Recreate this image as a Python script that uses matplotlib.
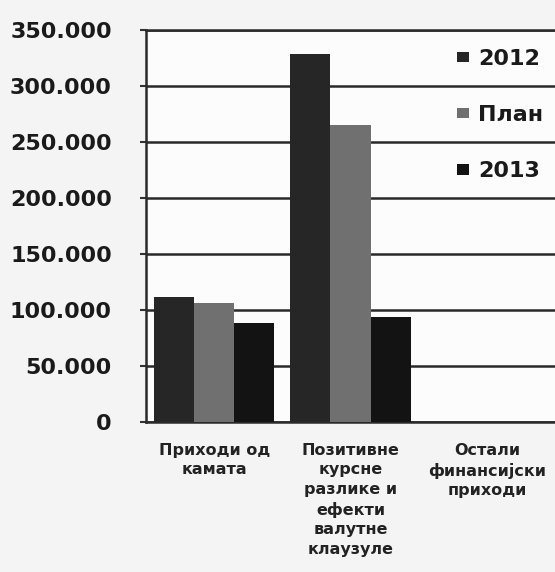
import matplotlib
matplotlib.use("Agg")
import matplotlib.pyplot as plt
import numpy as np

# Financial income by type (values in thousands)
categories = ["Приходи од\nкамата",
              "Позитивне\nкурсне\nразлике и\nефекти\nвалутне\nклаузуле",
              "Остали\nфинансијски\nприходи"]
series_names = ["2012", "План", "2013"]
values_2012 = [112000, 329000, 0]
values_plan = [106000, 265000, 0]
values_2013 = [88000, 94000, 0]
y_ticks = [0, 50000, 100000, 150000, 200000, 250000, 300000, 350000]
y_tick_labels = ["0", "50.000", "100.000", "150.000", "200.000",
                 "250.000", "300.000", "350.000"]

colors = ["#262626", "#707070", "#131313"]

fig = plt.figure(figsize=(5.55, 5.72), dpi=100, facecolor="#f4f4f4")
ax = fig.add_axes([0.263, 0.2622, 0.737, 0.6853])
ax.set_facecolor("#fcfcfc")

x = np.arange(len(categories))
bw = 0.294
all_series = [values_2012, values_plan, values_2013]
for i, (name, vals) in enumerate(zip(series_names, all_series)):
    ax.bar(x + (i - 1) * bw, vals, width=bw, color=colors[i],
           label=name, zorder=3)

ax.set_xlim(-0.5, 2.5)
ax.set_ylim(0, 350000)
ax.set_yticks(y_ticks)
ax.set_yticklabels(y_tick_labels, fontsize=16, fontweight="bold",
                   color="#1a1a1a")
ax.yaxis.grid(True, color="#2a2a2a", linewidth=1.8, zorder=1)
ax.set_axisbelow(True)
ax.tick_params(axis="y", length=4, width=1.5, pad=20.5, color="#333333")

ax.set_xticks(x)
ax.set_xticklabels(categories, fontsize=11.5, fontweight="bold",
                   color="#222222", linespacing=1.38)
ax.tick_params(axis="x", length=0, pad=15)

for side in ["left", "bottom", "top"]:
    ax.spines[side].set_color("#2a2a2a")
    ax.spines[side].set_linewidth(1.8)
ax.spines["right"].set_visible(False)

leg = ax.legend(loc="upper right", bbox_to_anchor=(1.02, 1.003),
                frameon=False, fontsize=16, handlelength=0.55,
                handleheight=0.35, handletextpad=0.4,
                labelspacing=1.63)
for t in leg.get_texts():
    t.set_fontweight("bold")
    t.set_color("#1a1a1a")

fig.savefig("out.png", dpi=100, facecolor=fig.get_facecolor())
